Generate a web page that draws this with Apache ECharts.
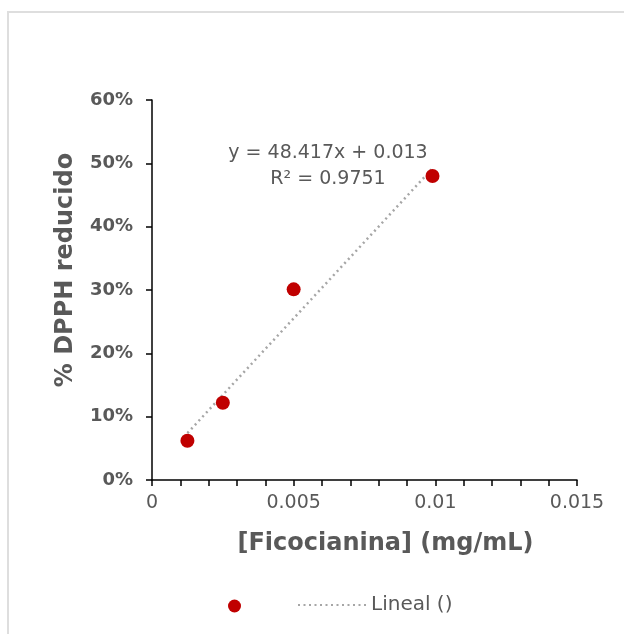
<!DOCTYPE html>
<html>
<head>
<meta charset="utf-8">
<script src="https://cdn.jsdelivr.net/npm/echarts@6/dist/echarts.min.js"></script>
<style>
html, body { margin: 0; padding: 0; background: #fff; }
#chart { width: 624px; height: 634px; }
</style>
</head>
<body>
<div id="chart"></div>
<script>
// datos DPPH vs ficocianina
var conc = [0.00125, 0.0025, 0.005, 0.0099];
var dpph = [0.062, 0.122, 0.301, 0.480];
// extremos de la linea de tendencia
var trendX = [0.00125, 0.0099];
var trendY = [0.074, 0.492];
var eqText = 'y = 48.417x + 0.013\nR² = 0.9751';

var puntos = [];
for (var i = 0; i < conc.length; i++) puntos.push([conc[i], dpph[i]]);
var tendencia = [];
for (var j = 0; j < trendX.length; j++) tendencia.push([trendX[j], trendY[j]]);

var gris = '#595959';
var font = "'DejaVu Sans', Verdana, sans-serif";

var myChart = echarts.init(document.getElementById('chart'));
var option = {
	backgroundColor: '#fff',
	animation: false,
	textStyle: { fontFamily: font },
	grid: { left: 152, right: 47, top: 100, bottom: 154 },
	legend: [
		{
			data: [{ name: ' ', icon: 'circle' }],
			left: 228, top: 596, padding: 0,
			itemWidth: 13, itemHeight: 13,
			textStyle: { fontSize: 20, color: gris, fontFamily: font }
		},
		{
			data: [{ name: 'Lineal ()', itemStyle: { opacity: 0 } }],
			left: 297, top: 595, padding: 0,
			itemWidth: 68, itemHeight: 14,
			textStyle: { fontSize: 20, color: gris, fontFamily: font }
		}
	],
	xAxis: {
		type: 'value',
		min: 0, max: 0.015, interval: 0.005,
		name: '[Ficocianina] (mg/mL)',
		nameLocation: 'middle',
		nameGap: 52,
		nameTextStyle: { fontSize: 24, fontWeight: 'bold', color: gris, fontFamily: font, padding: [0, 0, 0, 42] },
		axisLine: { lineStyle: { color: '#000', width: 1.5 } },
		axisTick: { show: true, length: 6, lineStyle: { color: '#000', width: 1.5 } },
		minorTick: { show: true, splitNumber: 5, length: 6, lineStyle: { color: '#000', width: 1.5 } },
		axisLabel: { fontSize: 19, color: gris, margin: 14, fontFamily: font },
		splitLine: { show: false }
	},
	yAxis: {
		type: 'value',
		min: 0, max: 0.6, interval: 0.1,
		name: '% DPPH reducido',
		nameLocation: 'middle',
		nameGap: 74,
		nameTextStyle: { fontSize: 24, fontWeight: 'bold', color: gris, fontFamily: font, padding: [0, 0, 0, 40] },
		axisLine: { show: true, lineStyle: { color: '#000', width: 1.5 } },
		axisTick: { show: true, length: 6, lineStyle: { color: '#000', width: 1.5 } },
		axisLabel: {
			fontSize: 18, fontWeight: 'bold', color: gris, margin: 19, fontFamily: font,
			formatter: function (v) { return Math.round(v * 100) + '%'; }
		},
		splitLine: { show: false }
	},
	series: [
		{
			name: 'Lineal ()',
			type: 'line',
			data: tendencia,
			symbol: 'none',
			itemStyle: { color: '#a6a6a6' },
			lineStyle: { color: '#a6a6a6', width: 2.5, type: [2, 3.5] },
			z: 1
		},
		{
			name: ' ',
			type: 'scatter',
			data: puntos,
			symbolSize: 14,
			itemStyle: { color: '#c00000', opacity: 1 },
			z: 3
		}
	],
	graphic: [
		{
			type: 'rect',
			shape: { x: 8, y: 12, width: 720, height: 720 },
			style: { fill: null, stroke: '#dedede', lineWidth: 2 },
			silent: true
		},
		{
			// texto de la ecuacion
			type: 'text',
			x: 328, y: 140,
			style: {
				text: eqText,
				textAlign: 'center',
				fill: gris,
				font: '19px ' + font,
				lineHeight: 26
			}
		}
	]
};
myChart.setOption(option);
</script>
</body>
</html>
